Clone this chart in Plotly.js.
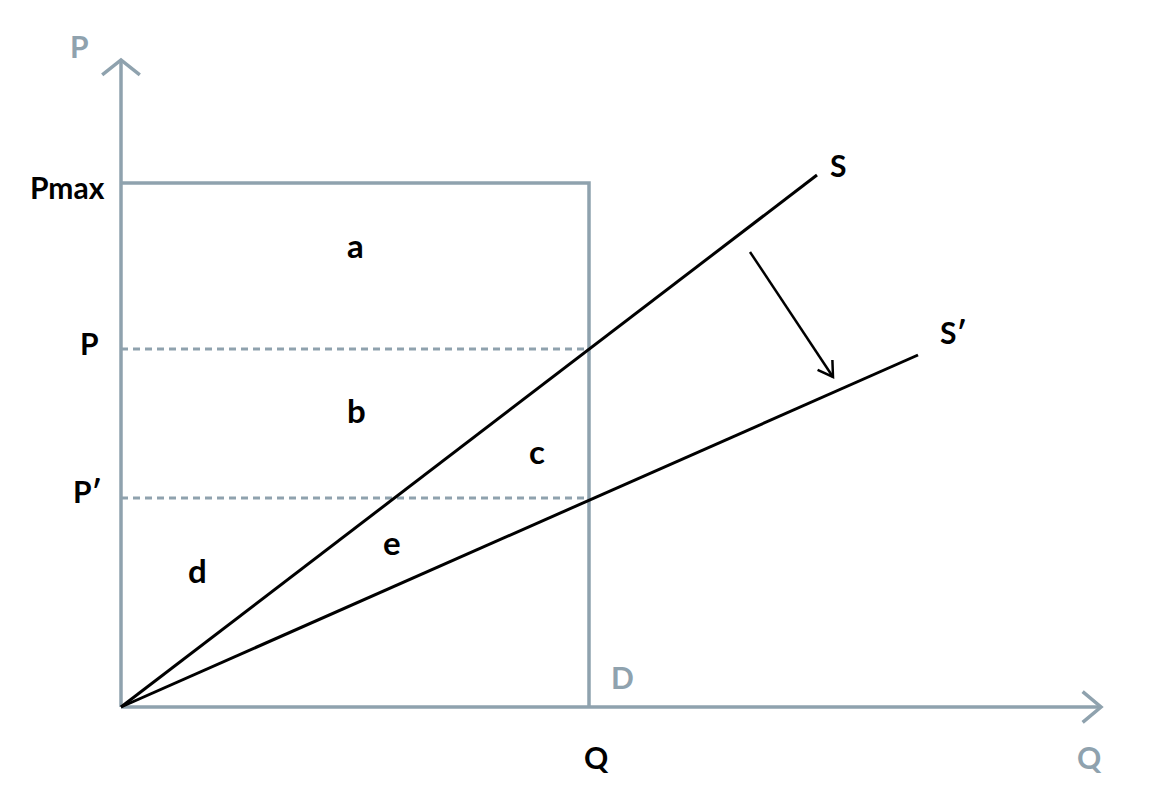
<!DOCTYPE html>
<html>
<head>
<meta charset="utf-8">
<script src="https://cdn.plot.ly/plotly-3.0.1.min.js"></script>
<style>
  html, body { margin: 0; padding: 0; background: #fff; }
  #chart { width: 1152px; height: 790px; }
</style>
</head>
<body>
<div id="chart"></div>
<script>
// diagram values (origin at 0,0)
var qMax = 980;          // end of the Q axis
var pMax = 647;          // end of the P axis
var qD = 468;            // demand quantity (vertical D line)
var priceLevels = [524, 358, 209];   // Pmax, P, P'
var priceNames = ['<b>P</b>max', '<b>P</b>', '<b>P\u2032</b>'];
var supplyEnd = [696, 532];          // S line end
var supply2End = [797, 352];         // S' line end
var shiftFrom = [629, 455];
var shiftTo = [712, 330];
var areaNames = ['a', 'b', 'c', 'd', 'e'];
var areaQ = [234, 235, 416, 76, 271];
var areaP = [462, 297, 256, 137, 165];

var grey = '#8fa2ae';
var black = '#000000';

// open chevron arrowhead built from tip and direction
function chevron(tip, from, len, ang) {
  var dx = from[0] - tip[0], dy = from[1] - tip[1];
  var a = Math.atan2(dy, dx);
  var p1 = [tip[0] + len * Math.cos(a + ang), tip[1] + len * Math.sin(a + ang)];
  var p2 = [tip[0] + len * Math.cos(a - ang), tip[1] + len * Math.sin(a - ang)];
  return {x: [p1[0], tip[0], p2[0]], y: [p1[1], tip[1], p2[1]]};
}

function line(x, y, color, width, dash) {
  return {type: 'scatter', mode: 'lines', x: x, y: y, hoverinfo: 'skip',
          line: {color: color, width: width, dash: dash || 'solid'}};
}

var traces = [];
// axes
traces.push(line([0, 0], [0, pMax], grey, 3.5));
traces.push(line([0, qMax], [0, 0], grey, 3.5));
var hv = chevron([0, pMax], [0, 0], 24, 0.9);
traces.push(line(hv.x, hv.y, grey, 3.5));
var hh = chevron([qMax, 0], [0, 0], 24, 0.7);
traces.push(line(hh.x, hh.y, grey, 3.5));
// demand box
traces.push(line([0, qD, qD], [priceLevels[0], priceLevels[0], 0], grey, 3.5));
// price dashes
traces.push(line([0, qD], [priceLevels[1], priceLevels[1]], grey, 3, '7px,5px'));
traces.push(line([0, qD], [priceLevels[2], priceLevels[2]], grey, 3, '7px,5px'));
// supply curves
traces.push(line([0, supplyEnd[0]], [0, supplyEnd[1]], black, 3));
traces.push(line([0, supply2End[0]], [0, supply2End[1]], black, 3));
// shift arrow
traces.push(line([shiftFrom[0], shiftTo[0]], [shiftFrom[1], shiftTo[1]], black, 2.5));
var hs = chevron(shiftTo, shiftFrom, 17, 0.55);
traces.push(line(hs.x, hs.y, black, 2.5));

var fam = 'Lato, "Open Sans", sans-serif';
var fontB = {family: fam, size: 30, color: black, weight: 700};
var fontL = {family: fam, size: 33, color: black, weight: 700};
var fontG = {family: fam, size: 30, color: grey, weight: 700};

function label(x, y, text, font) {
  return {x: x, y: y, text: text, showarrow: false, font: font,
          xanchor: 'center', yanchor: 'middle'};
}

var ann = [];
ann.push(label(-42, pMax + 14, 'P', fontG));
ann.push(label(qMax - 12, -50, 'Q', fontG));
ann.push(label(qD + 33, 30, 'D', fontG));
ann.push(label(qD + 7, -50, 'Q', fontB));
ann.push(label(-54, priceLevels[0] - 4, priceNames[0], fontB));
ann.push(label(-32, priceLevels[1] + 6, priceNames[1], fontB));
ann.push(label(-34, priceLevels[2] + 7, priceNames[2], fontB));
ann.push(label(supplyEnd[0] + 21, supplyEnd[1] + 10, 'S', fontB));
ann.push(label(supply2End[0] + 35, supply2End[1] + 23, 'S\u2032', fontB));
for (var i = 0; i < areaNames.length; i++) {
  ann.push(label(areaQ[i], areaP[i], areaNames[i], fontL));
}

var layout = {
  width: 1152, height: 790,
  margin: {l: 0, r: 0, t: 0, b: 0},
  paper_bgcolor: '#ffffff', plot_bgcolor: '#ffffff',
  showlegend: false,
  xaxis: {range: [-121, 1031], visible: false, fixedrange: true},
  yaxis: {range: [-83, 707], visible: false, fixedrange: true},
  annotations: ann
};

Plotly.newPlot('chart', traces, layout, {staticPlot: true});
</script>
</body>
</html>
